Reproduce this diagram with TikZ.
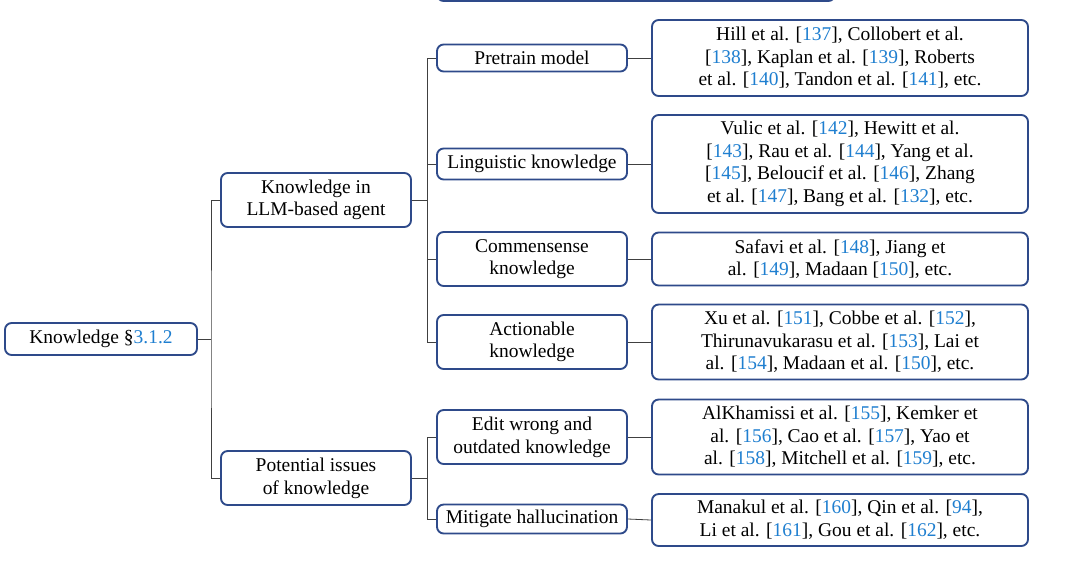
\documentclass[tikz,border=0pt]{standalone}
\usepackage{fontspec}
\setmainfont{Liberation Serif}
\definecolor{bord}{HTML}{2E4A8A}
\definecolor{citeblue}{HTML}{1F7FD0}
\newcommand\rf[1]{[\textcolor{citeblue}{#1}]}
\begin{document}
\begin{tikzpicture}[x=0.75pt,y=-0.75pt,
  box/.style={draw=bord,line width=1.4pt,rounded corners=5pt,fill=white,align=center,inner sep=0pt,font=\fontsize{14.6}{17}\selectfont},
  ln/.style={draw=black!75,line width=0.6pt}]
\useasboundingbox (0,0) rectangle (1080,562);
\draw[draw=bord,line width=1.4pt,rounded corners=5pt] (437,-20) rectangle (835,1);
\node[box,minimum width=192*0.75pt,minimum height=32*0.75pt] (r) at (101,339) {Knowledge §\textcolor{citeblue}{3.1.2}};
\node[box,minimum width=190*0.75pt,minimum height=54*0.75pt] (a) at (316,200) {Knowledge in\\LLM-based agent};
\node[box,minimum width=190*0.75pt,minimum height=54*0.75pt] (b) at (316,478) {Potential issues\\of knowledge};
\tikzset{mid/.style={box,minimum width=190*0.75pt}}
\node[mid,minimum height=27*0.75pt] (a1) at (532,58) {Pretrain model};
\node[mid,minimum height=31*0.75pt] (a2) at (532,164) {Linguistic knowledge};
\node[mid,minimum height=54*0.75pt] (a3) at (532,259) {Commensense\\knowledge};
\node[mid,minimum height=54*0.75pt] (a4) at (532,342) {Actionable\\knowledge};
\node[mid,minimum height=54*0.75pt] (b1) at (532,437) {Edit wrong and\\outdated knowledge};
\node[mid,minimum height=29*0.75pt] (b2) at (532,519) {Mitigate hallucination};
\tikzset{leaf/.style={box,minimum width=376*0.75pt}}
\node[leaf,minimum height=76*0.75pt] (l1) at (840,58) {Hill et al. \rf{137}, Collobert et al.\\\rf{138}, Kaplan et al. \rf{139}, Roberts\\et al. \rf{140}, Tandon et al. \rf{141}, etc.};
\node[leaf,minimum height=98*0.75pt] (l2) at (840,164) {Vulic et al. \rf{142}, Hewitt et al.\\\rf{143}, Rau et al. \rf{144}, Yang et al.\\\rf{145}, Beloucif et al. \rf{146}, Zhang\\et al. \rf{147}, Bang et al. \rf{132}, etc.};
\node[leaf,minimum height=53*0.75pt] (l3) at (840,259) {Safavi et al. \rf{148}, Jiang et\\al. \rf{149}, Madaan \rf{150}, etc.};
\node[leaf,minimum height=75*0.75pt] (l4) at (840,342) {Xu et al. \rf{151}, Cobbe et al. \rf{152},\\Thirunavukarasu et al. \rf{153}, Lai et\\al. \rf{154}, Madaan et al. \rf{150}, etc.};
\node[leaf,minimum height=75*0.75pt] (l5) at (840,437) {AlKhamissi et al. \rf{155}, Kemker et\\al. \rf{156}, Cao et al. \rf{157}, Yao et\\al. \rf{158}, Mitchell et al. \rf{159}, etc.};
\node[leaf,minimum height=52*0.75pt] (l6) at (840,520) {Manakul et al. \rf{160}, Qin et al. \rf{94},\\Li et al. \rf{161}, Gou et al. \rf{162}, etc.};
\draw[ln] (r.east) -- (211,339);
\draw[ln] (a.west) -| (211,339) |- (b.west);
\foreach \c in {a1,a2,a3,a4} \draw[ln] (a.east) -| (427,200) |- (\c.west);
\foreach \c in {b1,b2} \draw[ln] (b.east) -| (427,478) |- (\c.west);
\foreach \p/\q in {a1/l1,a2/l2,a3/l3,a4/l4,b1/l5,b2/l6} \draw[ln] (\p.east) -- (\q.west);
\end{tikzpicture}
\end{document}
